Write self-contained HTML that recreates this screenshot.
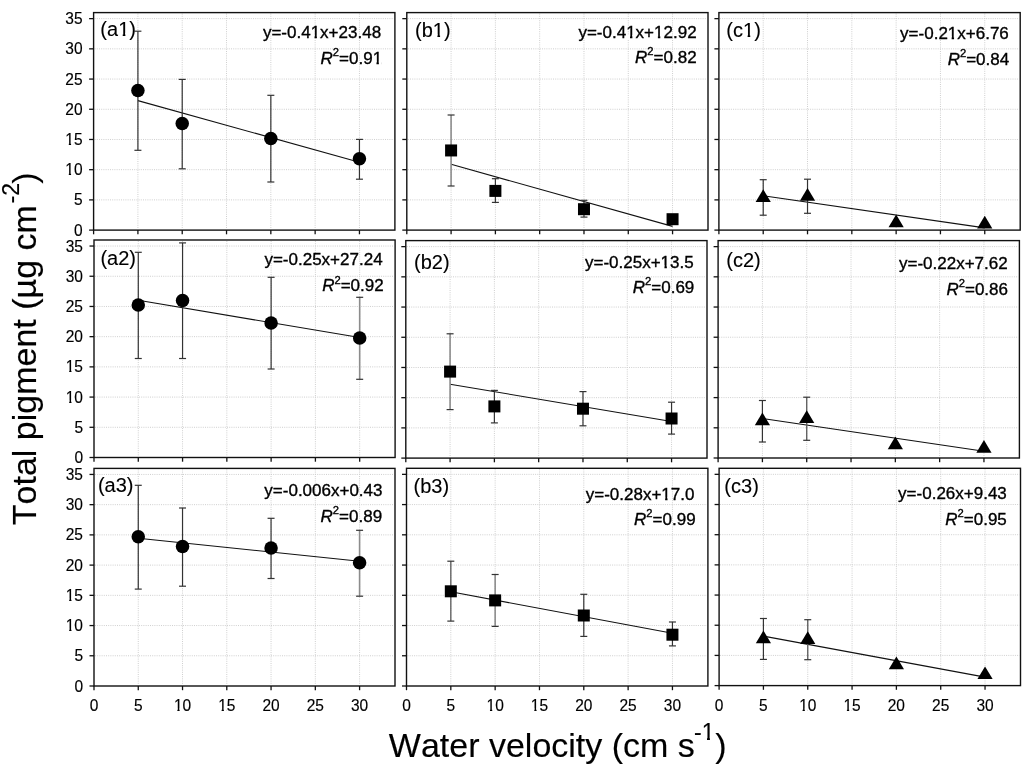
<!DOCTYPE html><html><head><meta charset="utf-8"><title>Total pigment vs water velocity</title>
<style>html,body{margin:0;padding:0;background:#fff;overflow:hidden}svg{display:block;will-change:transform}text{font-family:"Liberation Sans", sans-serif;fill:#000;font-kerning:none;stroke:#000}g text{stroke-width:inherit}</style></head><body>
<svg width="1024" height="768" viewBox="0 0 1024 768">
<rect x="0" y="0" width="1024" height="768" fill="#fff"/>
<g style="stroke-width:0.35px">
<g stroke="#cfcfcf" stroke-width="1" stroke-dasharray="1 1.2"><line x1="94.60" y1="199.89" x2="393.90" y2="199.89"/><line x1="94.60" y1="169.68" x2="393.90" y2="169.68"/><line x1="94.60" y1="139.47" x2="393.90" y2="139.47"/><line x1="94.60" y1="109.27" x2="393.90" y2="109.27"/><line x1="94.60" y1="79.06" x2="393.90" y2="79.06"/><line x1="94.60" y1="48.85" x2="393.90" y2="48.85"/><line x1="94.60" y1="18.64" x2="393.90" y2="18.64"/><line x1="137.91" y1="13.60" x2="137.91" y2="229.10"/><line x1="182.22" y1="13.60" x2="182.22" y2="229.10"/><line x1="226.53" y1="13.60" x2="226.53" y2="229.10"/><line x1="270.84" y1="13.60" x2="270.84" y2="229.10"/><line x1="315.14" y1="13.60" x2="315.14" y2="229.10"/><line x1="359.45" y1="13.60" x2="359.45" y2="229.10"/></g>
<g stroke="#111" stroke-width="1.3"><line x1="89.10" y1="230.10" x2="93.60" y2="230.10"/><line x1="89.10" y1="199.89" x2="93.60" y2="199.89"/><line x1="89.10" y1="169.68" x2="93.60" y2="169.68"/><line x1="89.10" y1="139.47" x2="93.60" y2="139.47"/><line x1="89.10" y1="109.27" x2="93.60" y2="109.27"/><line x1="89.10" y1="79.06" x2="93.60" y2="79.06"/><line x1="89.10" y1="48.85" x2="93.60" y2="48.85"/><line x1="89.10" y1="18.64" x2="93.60" y2="18.64"/><line x1="93.60" y1="230.10" x2="93.60" y2="234.30"/><line x1="137.91" y1="230.10" x2="137.91" y2="234.30"/><line x1="182.22" y1="230.10" x2="182.22" y2="234.30"/><line x1="226.53" y1="230.10" x2="226.53" y2="234.30"/><line x1="270.84" y1="230.10" x2="270.84" y2="234.30"/><line x1="315.14" y1="230.10" x2="315.14" y2="234.30"/><line x1="359.45" y1="230.10" x2="359.45" y2="234.30"/></g>
<rect x="93.60" y="12.60" width="301.30" height="217.50" fill="none" stroke="#111" stroke-width="1.4"/>
<line x1="137.91" y1="100.60" x2="359.45" y2="162.30" stroke="#111" stroke-width="1.1"/>
<g stroke="#333" stroke-width="1.2"><line x1="137.91" y1="31.20" x2="137.91" y2="150.30"/><line x1="134.41" y1="31.20" x2="141.41" y2="31.20"/><line x1="134.41" y1="150.30" x2="141.41" y2="150.30"/><line x1="182.22" y1="79.40" x2="182.22" y2="168.80"/><line x1="178.72" y1="79.40" x2="185.72" y2="79.40"/><line x1="178.72" y1="168.80" x2="185.72" y2="168.80"/><line x1="270.84" y1="95.30" x2="270.84" y2="182.00"/><line x1="267.34" y1="95.30" x2="274.34" y2="95.30"/><line x1="267.34" y1="182.00" x2="274.34" y2="182.00"/><line x1="359.45" y1="139.40" x2="359.45" y2="179.20"/><line x1="355.95" y1="139.40" x2="362.95" y2="139.40"/><line x1="355.95" y1="179.20" x2="362.95" y2="179.20"/></g>
<g fill="#000"><circle cx="137.91" cy="90.50" r="6.75"/><circle cx="182.22" cy="123.50" r="6.75"/><circle cx="270.84" cy="138.50" r="6.75"/><circle cx="359.45" cy="158.85" r="6.75"/></g>
<text x="100.35" y="35.60" style="stroke-width:0.12px"><tspan font-size="20">(a1)</tspan></text>
<text x="262.95" y="38.10"><tspan font-size="17">y=-0.41x+23.48</tspan></text>
<text x="320.58" y="64.10"><tspan font-size="17" font-style="italic">R</tspan><tspan font-size="11.2" dy="-7.8">2</tspan><tspan font-size="17" dy="7.8">=0.91</tspan></text>
<text transform="translate(0.00 235.60) scale(1 1.03)" x="73.98" y="0" style="stroke-width:0.15px"><tspan font-size="15.5">0</tspan></text>
<text transform="translate(0.00 205.39) scale(1 1.03)" x="73.98" y="0" style="stroke-width:0.15px"><tspan font-size="15.5">5</tspan></text>
<text transform="translate(0.00 175.18) scale(1 1.03)" x="65.36" y="0" style="stroke-width:0.15px"><tspan font-size="15.5">10</tspan></text>
<text transform="translate(0.00 144.97) scale(1 1.03)" x="65.36" y="0" style="stroke-width:0.15px"><tspan font-size="15.5">15</tspan></text>
<text transform="translate(0.00 114.77) scale(1 1.03)" x="65.36" y="0" style="stroke-width:0.15px"><tspan font-size="15.5">20</tspan></text>
<text transform="translate(0.00 84.56) scale(1 1.03)" x="65.36" y="0" style="stroke-width:0.15px"><tspan font-size="15.5">25</tspan></text>
<text transform="translate(0.00 54.35) scale(1 1.03)" x="65.36" y="0" style="stroke-width:0.15px"><tspan font-size="15.5">30</tspan></text>
<text transform="translate(0.00 24.14) scale(1 1.03)" x="65.36" y="0" style="stroke-width:0.15px"><tspan font-size="15.5">35</tspan></text>
<g stroke="#cfcfcf" stroke-width="1" stroke-dasharray="1 1.2"><line x1="407.80" y1="199.89" x2="707.00" y2="199.89"/><line x1="407.80" y1="169.68" x2="707.00" y2="169.68"/><line x1="407.80" y1="139.47" x2="707.00" y2="139.47"/><line x1="407.80" y1="109.27" x2="707.00" y2="109.27"/><line x1="407.80" y1="79.06" x2="707.00" y2="79.06"/><line x1="407.80" y1="48.85" x2="707.00" y2="48.85"/><line x1="407.80" y1="18.64" x2="707.00" y2="18.64"/><line x1="451.09" y1="13.60" x2="451.09" y2="229.10"/><line x1="495.39" y1="13.60" x2="495.39" y2="229.10"/><line x1="539.68" y1="13.60" x2="539.68" y2="229.10"/><line x1="583.98" y1="13.60" x2="583.98" y2="229.10"/><line x1="628.27" y1="13.60" x2="628.27" y2="229.10"/><line x1="672.56" y1="13.60" x2="672.56" y2="229.10"/></g>
<g stroke="#111" stroke-width="1.3"><line x1="402.30" y1="230.10" x2="406.80" y2="230.10"/><line x1="402.30" y1="199.89" x2="406.80" y2="199.89"/><line x1="402.30" y1="169.68" x2="406.80" y2="169.68"/><line x1="402.30" y1="139.47" x2="406.80" y2="139.47"/><line x1="402.30" y1="109.27" x2="406.80" y2="109.27"/><line x1="402.30" y1="79.06" x2="406.80" y2="79.06"/><line x1="402.30" y1="48.85" x2="406.80" y2="48.85"/><line x1="402.30" y1="18.64" x2="406.80" y2="18.64"/><line x1="406.80" y1="230.10" x2="406.80" y2="234.30"/><line x1="451.09" y1="230.10" x2="451.09" y2="234.30"/><line x1="495.39" y1="230.10" x2="495.39" y2="234.30"/><line x1="539.68" y1="230.10" x2="539.68" y2="234.30"/><line x1="583.98" y1="230.10" x2="583.98" y2="234.30"/><line x1="628.27" y1="230.10" x2="628.27" y2="234.30"/><line x1="672.56" y1="230.10" x2="672.56" y2="234.30"/></g>
<rect x="406.80" y="12.60" width="301.20" height="217.50" fill="none" stroke="#111" stroke-width="1.4"/>
<line x1="451.09" y1="164.30" x2="672.56" y2="226.40" stroke="#111" stroke-width="1.1"/>
<g stroke="#333" stroke-width="1.2"><line x1="451.09" y1="115.00" x2="451.09" y2="186.00" stroke="#8c8c8c" stroke-width="1.6"/><line x1="447.59" y1="115.00" x2="454.59" y2="115.00"/><line x1="447.59" y1="186.00" x2="454.59" y2="186.00"/><line x1="495.39" y1="178.70" x2="495.39" y2="202.40"/><line x1="491.89" y1="178.70" x2="498.89" y2="178.70"/><line x1="491.89" y1="202.40" x2="498.89" y2="202.40"/><line x1="583.98" y1="200.30" x2="583.98" y2="217.10"/><line x1="580.48" y1="200.30" x2="587.48" y2="200.30"/><line x1="580.48" y1="217.10" x2="587.48" y2="217.10"/></g>
<g fill="#000"><rect x="445.09" y="144.45" width="12" height="12"/><rect x="489.39" y="184.90" width="12" height="12"/><rect x="577.98" y="203.20" width="12" height="12"/><rect x="666.56" y="213.20" width="12" height="12"/></g>
<text x="415.05" y="37.10" style="stroke-width:0.12px"><tspan font-size="20">(b1)</tspan></text>
<text x="578.45" y="37.60"><tspan font-size="17">y=-0.41x+12.92</tspan></text>
<text x="635.08" y="63.10"><tspan font-size="17" font-style="italic">R</tspan><tspan font-size="11.2" dy="-7.8">2</tspan><tspan font-size="17" dy="7.8">=0.82</tspan></text>
<g stroke="#cfcfcf" stroke-width="1" stroke-dasharray="1 1.2"><line x1="719.90" y1="199.89" x2="1019.20" y2="199.89"/><line x1="719.90" y1="169.68" x2="1019.20" y2="169.68"/><line x1="719.90" y1="139.47" x2="1019.20" y2="139.47"/><line x1="719.90" y1="109.27" x2="1019.20" y2="109.27"/><line x1="719.90" y1="79.06" x2="1019.20" y2="79.06"/><line x1="719.90" y1="48.85" x2="1019.20" y2="48.85"/><line x1="719.90" y1="18.64" x2="1019.20" y2="18.64"/><line x1="763.21" y1="13.60" x2="763.21" y2="229.10"/><line x1="807.52" y1="13.60" x2="807.52" y2="229.10"/><line x1="851.83" y1="13.60" x2="851.83" y2="229.10"/><line x1="896.14" y1="13.60" x2="896.14" y2="229.10"/><line x1="940.44" y1="13.60" x2="940.44" y2="229.10"/><line x1="984.75" y1="13.60" x2="984.75" y2="229.10"/></g>
<g stroke="#111" stroke-width="1.3"><line x1="714.40" y1="230.10" x2="718.90" y2="230.10"/><line x1="714.40" y1="199.89" x2="718.90" y2="199.89"/><line x1="714.40" y1="169.68" x2="718.90" y2="169.68"/><line x1="714.40" y1="139.47" x2="718.90" y2="139.47"/><line x1="714.40" y1="109.27" x2="718.90" y2="109.27"/><line x1="714.40" y1="79.06" x2="718.90" y2="79.06"/><line x1="714.40" y1="48.85" x2="718.90" y2="48.85"/><line x1="714.40" y1="18.64" x2="718.90" y2="18.64"/><line x1="718.90" y1="230.10" x2="718.90" y2="234.30"/><line x1="763.21" y1="230.10" x2="763.21" y2="234.30"/><line x1="807.52" y1="230.10" x2="807.52" y2="234.30"/><line x1="851.83" y1="230.10" x2="851.83" y2="234.30"/><line x1="896.14" y1="230.10" x2="896.14" y2="234.30"/><line x1="940.44" y1="230.10" x2="940.44" y2="234.30"/><line x1="984.75" y1="230.10" x2="984.75" y2="234.30"/></g>
<rect x="718.90" y="12.60" width="301.30" height="217.50" fill="none" stroke="#111" stroke-width="1.4"/>
<line x1="763.21" y1="195.70" x2="984.75" y2="227.90" stroke="#111" stroke-width="1.1"/>
<g stroke="#333" stroke-width="1.2"><line x1="763.21" y1="179.70" x2="763.21" y2="215.20"/><line x1="759.71" y1="179.70" x2="766.71" y2="179.70"/><line x1="759.71" y1="215.20" x2="766.71" y2="215.20"/><line x1="807.52" y1="179.20" x2="807.52" y2="213.30"/><line x1="804.02" y1="179.20" x2="811.02" y2="179.20"/><line x1="804.02" y1="213.30" x2="811.02" y2="213.30"/></g>
<g fill="#000"><path d="M763.21 189.20L770.81 201.90L755.61 201.90Z"/><path d="M807.52 188.00L815.12 200.70L799.92 200.70Z"/><path d="M896.14 214.60L903.74 227.30L888.54 227.30Z"/><path d="M984.75 215.70L992.35 228.40L977.15 228.40Z"/></g>
<text x="726.35" y="37.10" style="stroke-width:0.12px"><tspan font-size="20">(c1)</tspan></text>
<text x="900.11" y="38.90"><tspan font-size="17">y=-0.21x+6.76</tspan></text>
<text x="947.68" y="64.70"><tspan font-size="17" font-style="italic">R</tspan><tspan font-size="11.2" dy="-7.8">2</tspan><tspan font-size="17" dy="7.8">=0.84</tspan></text>
<g stroke="#cfcfcf" stroke-width="1" stroke-dasharray="1 1.2"><line x1="95.00" y1="427.29" x2="394.10" y2="427.29"/><line x1="95.00" y1="397.08" x2="394.10" y2="397.08"/><line x1="95.00" y1="366.88" x2="394.10" y2="366.88"/><line x1="95.00" y1="336.67" x2="394.10" y2="336.67"/><line x1="95.00" y1="306.46" x2="394.10" y2="306.46"/><line x1="95.00" y1="276.25" x2="394.10" y2="276.25"/><line x1="95.00" y1="246.04" x2="394.10" y2="246.04"/><line x1="138.28" y1="241.00" x2="138.28" y2="456.50"/><line x1="182.56" y1="241.00" x2="182.56" y2="456.50"/><line x1="226.84" y1="241.00" x2="226.84" y2="456.50"/><line x1="271.12" y1="241.00" x2="271.12" y2="456.50"/><line x1="315.40" y1="241.00" x2="315.40" y2="456.50"/><line x1="359.68" y1="241.00" x2="359.68" y2="456.50"/></g>
<g stroke="#111" stroke-width="1.3"><line x1="89.50" y1="457.50" x2="94.00" y2="457.50"/><line x1="89.50" y1="427.29" x2="94.00" y2="427.29"/><line x1="89.50" y1="397.08" x2="94.00" y2="397.08"/><line x1="89.50" y1="366.88" x2="94.00" y2="366.88"/><line x1="89.50" y1="336.67" x2="94.00" y2="336.67"/><line x1="89.50" y1="306.46" x2="94.00" y2="306.46"/><line x1="89.50" y1="276.25" x2="94.00" y2="276.25"/><line x1="89.50" y1="246.04" x2="94.00" y2="246.04"/><line x1="94.00" y1="457.50" x2="94.00" y2="461.70"/><line x1="138.28" y1="457.50" x2="138.28" y2="461.70"/><line x1="182.56" y1="457.50" x2="182.56" y2="461.70"/><line x1="226.84" y1="457.50" x2="226.84" y2="461.70"/><line x1="271.12" y1="457.50" x2="271.12" y2="461.70"/><line x1="315.40" y1="457.50" x2="315.40" y2="461.70"/><line x1="359.68" y1="457.50" x2="359.68" y2="461.70"/></g>
<rect x="94.00" y="240.00" width="301.10" height="217.50" fill="none" stroke="#111" stroke-width="1.4"/>
<line x1="138.28" y1="300.30" x2="359.68" y2="337.50" stroke="#111" stroke-width="1.1"/>
<g stroke="#333" stroke-width="1.2"><line x1="138.28" y1="252.30" x2="138.28" y2="358.50"/><line x1="134.78" y1="252.30" x2="141.78" y2="252.30"/><line x1="134.78" y1="358.50" x2="141.78" y2="358.50"/><line x1="182.56" y1="242.90" x2="182.56" y2="358.50"/><line x1="179.06" y1="242.90" x2="186.06" y2="242.90"/><line x1="179.06" y1="358.50" x2="186.06" y2="358.50"/><line x1="271.12" y1="277.30" x2="271.12" y2="369.00"/><line x1="267.62" y1="277.30" x2="274.62" y2="277.30"/><line x1="267.62" y1="369.00" x2="274.62" y2="369.00"/><line x1="359.68" y1="297.30" x2="359.68" y2="379.30" stroke="#8c8c8c" stroke-width="1.6"/><line x1="356.18" y1="297.30" x2="363.18" y2="297.30"/><line x1="356.18" y1="379.30" x2="363.18" y2="379.30"/></g>
<g fill="#000"><circle cx="138.28" cy="305.00" r="6.75"/><circle cx="182.56" cy="300.60" r="6.75"/><circle cx="271.12" cy="322.90" r="6.75"/><circle cx="359.68" cy="337.90" r="6.75"/></g>
<text x="100.45" y="264.80" style="stroke-width:0.12px"><tspan font-size="20">(a2)</tspan></text>
<text x="264.45" y="265.30"><tspan font-size="17">y=-0.25x+27.24</tspan></text>
<text x="322.18" y="291.40"><tspan font-size="17" font-style="italic">R</tspan><tspan font-size="11.2" dy="-7.8">2</tspan><tspan font-size="17" dy="7.8">=0.92</tspan></text>
<text transform="translate(0.00 463.00) scale(1 1.03)" x="74.38" y="0" style="stroke-width:0.15px"><tspan font-size="15.5">0</tspan></text>
<text transform="translate(0.00 432.79) scale(1 1.03)" x="74.38" y="0" style="stroke-width:0.15px"><tspan font-size="15.5">5</tspan></text>
<text transform="translate(0.00 402.58) scale(1 1.03)" x="65.76" y="0" style="stroke-width:0.15px"><tspan font-size="15.5">10</tspan></text>
<text transform="translate(0.00 372.38) scale(1 1.03)" x="65.76" y="0" style="stroke-width:0.15px"><tspan font-size="15.5">15</tspan></text>
<text transform="translate(0.00 342.17) scale(1 1.03)" x="65.76" y="0" style="stroke-width:0.15px"><tspan font-size="15.5">20</tspan></text>
<text transform="translate(0.00 311.96) scale(1 1.03)" x="65.76" y="0" style="stroke-width:0.15px"><tspan font-size="15.5">25</tspan></text>
<text transform="translate(0.00 281.75) scale(1 1.03)" x="65.76" y="0" style="stroke-width:0.15px"><tspan font-size="15.5">30</tspan></text>
<text transform="translate(0.00 251.54) scale(1 1.03)" x="65.76" y="0" style="stroke-width:0.15px"><tspan font-size="15.5">35</tspan></text>
<g stroke="#cfcfcf" stroke-width="1" stroke-dasharray="1 1.2"><line x1="406.80" y1="427.89" x2="706.00" y2="427.89"/><line x1="406.80" y1="397.68" x2="706.00" y2="397.68"/><line x1="406.80" y1="367.48" x2="706.00" y2="367.48"/><line x1="406.80" y1="337.27" x2="706.00" y2="337.27"/><line x1="406.80" y1="307.06" x2="706.00" y2="307.06"/><line x1="406.80" y1="276.85" x2="706.00" y2="276.85"/><line x1="406.80" y1="246.64" x2="706.00" y2="246.64"/><line x1="450.09" y1="241.60" x2="450.09" y2="457.10"/><line x1="494.39" y1="241.60" x2="494.39" y2="457.10"/><line x1="538.68" y1="241.60" x2="538.68" y2="457.10"/><line x1="582.98" y1="241.60" x2="582.98" y2="457.10"/><line x1="627.27" y1="241.60" x2="627.27" y2="457.10"/><line x1="671.56" y1="241.60" x2="671.56" y2="457.10"/></g>
<g stroke="#111" stroke-width="1.3"><line x1="401.30" y1="458.10" x2="405.80" y2="458.10"/><line x1="401.30" y1="427.89" x2="405.80" y2="427.89"/><line x1="401.30" y1="397.68" x2="405.80" y2="397.68"/><line x1="401.30" y1="367.48" x2="405.80" y2="367.48"/><line x1="401.30" y1="337.27" x2="405.80" y2="337.27"/><line x1="401.30" y1="307.06" x2="405.80" y2="307.06"/><line x1="401.30" y1="276.85" x2="405.80" y2="276.85"/><line x1="401.30" y1="246.64" x2="405.80" y2="246.64"/><line x1="405.80" y1="458.10" x2="405.80" y2="462.30"/><line x1="450.09" y1="458.10" x2="450.09" y2="462.30"/><line x1="494.39" y1="458.10" x2="494.39" y2="462.30"/><line x1="538.68" y1="458.10" x2="538.68" y2="462.30"/><line x1="582.98" y1="458.10" x2="582.98" y2="462.30"/><line x1="627.27" y1="458.10" x2="627.27" y2="462.30"/><line x1="671.56" y1="458.10" x2="671.56" y2="462.30"/></g>
<rect x="405.80" y="240.60" width="301.20" height="217.50" fill="none" stroke="#111" stroke-width="1.4"/>
<line x1="450.09" y1="384.20" x2="671.56" y2="421.50" stroke="#111" stroke-width="1.1"/>
<g stroke="#333" stroke-width="1.2"><line x1="450.09" y1="333.80" x2="450.09" y2="409.60" stroke="#8c8c8c" stroke-width="1.6"/><line x1="446.59" y1="333.80" x2="453.59" y2="333.80"/><line x1="446.59" y1="409.60" x2="453.59" y2="409.60"/><line x1="494.39" y1="390.40" x2="494.39" y2="422.90"/><line x1="490.89" y1="390.40" x2="497.89" y2="390.40"/><line x1="490.89" y1="422.90" x2="497.89" y2="422.90"/><line x1="582.98" y1="391.60" x2="582.98" y2="425.80"/><line x1="579.48" y1="391.60" x2="586.48" y2="391.60"/><line x1="579.48" y1="425.80" x2="586.48" y2="425.80"/><line x1="671.56" y1="402.20" x2="671.56" y2="434.10"/><line x1="668.06" y1="402.20" x2="675.06" y2="402.20"/><line x1="668.06" y1="434.10" x2="675.06" y2="434.10"/></g>
<g fill="#000"><rect x="444.09" y="365.60" width="12" height="12"/><rect x="488.39" y="400.40" width="12" height="12"/><rect x="576.98" y="402.70" width="12" height="12"/><rect x="665.56" y="412.50" width="12" height="12"/></g>
<text x="414.05" y="268.80" style="stroke-width:0.12px"><tspan font-size="20">(b2)</tspan></text>
<text x="585.01" y="267.90"><tspan font-size="17">y=-0.25x+13.5</tspan></text>
<text x="632.78" y="293.00"><tspan font-size="17" font-style="italic">R</tspan><tspan font-size="11.2" dy="-7.8">2</tspan><tspan font-size="17" dy="7.8">=0.69</tspan></text>
<g stroke="#cfcfcf" stroke-width="1" stroke-dasharray="1 1.2"><line x1="719.10" y1="427.81" x2="1018.40" y2="427.81"/><line x1="719.10" y1="397.61" x2="1018.40" y2="397.61"/><line x1="719.10" y1="367.42" x2="1018.40" y2="367.42"/><line x1="719.10" y1="337.22" x2="1018.40" y2="337.22"/><line x1="719.10" y1="307.03" x2="1018.40" y2="307.03"/><line x1="719.10" y1="276.83" x2="1018.40" y2="276.83"/><line x1="719.10" y1="246.64" x2="1018.40" y2="246.64"/><line x1="762.41" y1="241.60" x2="762.41" y2="457.00"/><line x1="806.72" y1="241.60" x2="806.72" y2="457.00"/><line x1="851.03" y1="241.60" x2="851.03" y2="457.00"/><line x1="895.34" y1="241.60" x2="895.34" y2="457.00"/><line x1="939.64" y1="241.60" x2="939.64" y2="457.00"/><line x1="983.95" y1="241.60" x2="983.95" y2="457.00"/></g>
<g stroke="#111" stroke-width="1.3"><line x1="713.60" y1="458.00" x2="718.10" y2="458.00"/><line x1="713.60" y1="427.81" x2="718.10" y2="427.81"/><line x1="713.60" y1="397.61" x2="718.10" y2="397.61"/><line x1="713.60" y1="367.42" x2="718.10" y2="367.42"/><line x1="713.60" y1="337.22" x2="718.10" y2="337.22"/><line x1="713.60" y1="307.03" x2="718.10" y2="307.03"/><line x1="713.60" y1="276.83" x2="718.10" y2="276.83"/><line x1="713.60" y1="246.64" x2="718.10" y2="246.64"/><line x1="718.10" y1="458.00" x2="718.10" y2="462.20"/><line x1="762.41" y1="458.00" x2="762.41" y2="462.20"/><line x1="806.72" y1="458.00" x2="806.72" y2="462.20"/><line x1="851.03" y1="458.00" x2="851.03" y2="462.20"/><line x1="895.34" y1="458.00" x2="895.34" y2="462.20"/><line x1="939.64" y1="458.00" x2="939.64" y2="462.20"/><line x1="983.95" y1="458.00" x2="983.95" y2="462.20"/></g>
<rect x="718.10" y="240.60" width="301.30" height="217.40" fill="none" stroke="#111" stroke-width="1.4"/>
<line x1="762.41" y1="418.50" x2="983.95" y2="451.20" stroke="#111" stroke-width="1.1"/>
<g stroke="#333" stroke-width="1.2"><line x1="762.41" y1="400.50" x2="762.41" y2="442.00"/><line x1="758.91" y1="400.50" x2="765.91" y2="400.50"/><line x1="758.91" y1="442.00" x2="765.91" y2="442.00"/><line x1="806.72" y1="397.20" x2="806.72" y2="440.30" stroke="#5e5e5e" stroke-width="1.35"/><line x1="803.22" y1="397.20" x2="810.22" y2="397.20"/><line x1="803.22" y1="440.30" x2="810.22" y2="440.30"/></g>
<g fill="#000"><path d="M762.41 412.60L770.01 425.30L754.81 425.30Z"/><path d="M806.72 410.30L814.32 423.00L799.12 423.00Z"/><path d="M895.34 436.60L902.94 449.30L887.74 449.30Z"/><path d="M983.95 440.10L991.55 452.80L976.35 452.80Z"/></g>
<text x="726.25" y="267.10" style="stroke-width:0.12px"><tspan font-size="20">(c2)</tspan></text>
<text x="899.01" y="268.90"><tspan font-size="17">y=-0.22x+7.62</tspan></text>
<text x="946.48" y="294.60"><tspan font-size="17" font-style="italic">R</tspan><tspan font-size="11.2" dy="-7.8">2</tspan><tspan font-size="17" dy="7.8">=0.86</tspan></text>
<g stroke="#cfcfcf" stroke-width="1" stroke-dasharray="1 1.2"><line x1="95.00" y1="655.78" x2="394.00" y2="655.78"/><line x1="95.00" y1="625.56" x2="394.00" y2="625.56"/><line x1="95.00" y1="595.33" x2="394.00" y2="595.33"/><line x1="95.00" y1="565.11" x2="394.00" y2="565.11"/><line x1="95.00" y1="534.89" x2="394.00" y2="534.89"/><line x1="95.00" y1="504.67" x2="394.00" y2="504.67"/><line x1="95.00" y1="474.44" x2="394.00" y2="474.44"/><line x1="138.26" y1="469.40" x2="138.26" y2="685.00"/><line x1="182.53" y1="469.40" x2="182.53" y2="685.00"/><line x1="226.79" y1="469.40" x2="226.79" y2="685.00"/><line x1="271.06" y1="469.40" x2="271.06" y2="685.00"/><line x1="315.32" y1="469.40" x2="315.32" y2="685.00"/><line x1="359.59" y1="469.40" x2="359.59" y2="685.00"/></g>
<g stroke="#111" stroke-width="1.3"><line x1="89.50" y1="686.00" x2="94.00" y2="686.00"/><line x1="89.50" y1="655.78" x2="94.00" y2="655.78"/><line x1="89.50" y1="625.56" x2="94.00" y2="625.56"/><line x1="89.50" y1="595.33" x2="94.00" y2="595.33"/><line x1="89.50" y1="565.11" x2="94.00" y2="565.11"/><line x1="89.50" y1="534.89" x2="94.00" y2="534.89"/><line x1="89.50" y1="504.67" x2="94.00" y2="504.67"/><line x1="89.50" y1="474.44" x2="94.00" y2="474.44"/><line x1="94.00" y1="686.00" x2="94.00" y2="690.20"/><line x1="138.26" y1="686.00" x2="138.26" y2="690.20"/><line x1="182.53" y1="686.00" x2="182.53" y2="690.20"/><line x1="226.79" y1="686.00" x2="226.79" y2="690.20"/><line x1="271.06" y1="686.00" x2="271.06" y2="690.20"/><line x1="315.32" y1="686.00" x2="315.32" y2="690.20"/><line x1="359.59" y1="686.00" x2="359.59" y2="690.20"/></g>
<rect x="94.00" y="468.40" width="301.00" height="217.60" fill="none" stroke="#111" stroke-width="1.4"/>
<line x1="138.26" y1="538.30" x2="359.59" y2="561.20" stroke="#111" stroke-width="1.1"/>
<g stroke="#333" stroke-width="1.2"><line x1="138.26" y1="485.30" x2="138.26" y2="589.10"/><line x1="134.76" y1="485.30" x2="141.76" y2="485.30"/><line x1="134.76" y1="589.10" x2="141.76" y2="589.10"/><line x1="182.53" y1="508.00" x2="182.53" y2="586.20"/><line x1="179.03" y1="508.00" x2="186.03" y2="508.00"/><line x1="179.03" y1="586.20" x2="186.03" y2="586.20"/><line x1="271.06" y1="518.30" x2="271.06" y2="578.50"/><line x1="267.56" y1="518.30" x2="274.56" y2="518.30"/><line x1="267.56" y1="578.50" x2="274.56" y2="578.50"/><line x1="359.59" y1="530.30" x2="359.59" y2="596.20" stroke="#8c8c8c" stroke-width="1.6"/><line x1="356.09" y1="530.30" x2="363.09" y2="530.30"/><line x1="356.09" y1="596.20" x2="363.09" y2="596.20"/></g>
<g fill="#000"><circle cx="138.26" cy="536.80" r="6.75"/><circle cx="182.53" cy="546.50" r="6.75"/><circle cx="271.06" cy="548.00" r="6.75"/><circle cx="359.59" cy="562.70" r="6.75"/></g>
<text x="97.95" y="491.80" style="stroke-width:0.12px"><tspan font-size="20">(a3)</tspan></text>
<text x="264.35" y="496.00"><tspan font-size="17">y=-0.006x+0.43</tspan></text>
<text x="320.58" y="521.80"><tspan font-size="17" font-style="italic">R</tspan><tspan font-size="11.2" dy="-7.8">2</tspan><tspan font-size="17" dy="7.8">=0.89</tspan></text>
<text transform="translate(0.00 691.50) scale(1 1.03)" x="74.38" y="0" style="stroke-width:0.15px"><tspan font-size="15.5">0</tspan></text>
<text transform="translate(0.00 661.28) scale(1 1.03)" x="74.38" y="0" style="stroke-width:0.15px"><tspan font-size="15.5">5</tspan></text>
<text transform="translate(0.00 631.06) scale(1 1.03)" x="65.76" y="0" style="stroke-width:0.15px"><tspan font-size="15.5">10</tspan></text>
<text transform="translate(0.00 600.83) scale(1 1.03)" x="65.76" y="0" style="stroke-width:0.15px"><tspan font-size="15.5">15</tspan></text>
<text transform="translate(0.00 570.61) scale(1 1.03)" x="65.76" y="0" style="stroke-width:0.15px"><tspan font-size="15.5">20</tspan></text>
<text transform="translate(0.00 540.39) scale(1 1.03)" x="65.76" y="0" style="stroke-width:0.15px"><tspan font-size="15.5">25</tspan></text>
<text transform="translate(0.00 510.17) scale(1 1.03)" x="65.76" y="0" style="stroke-width:0.15px"><tspan font-size="15.5">30</tspan></text>
<text transform="translate(0.00 479.94) scale(1 1.03)" x="65.76" y="0" style="stroke-width:0.15px"><tspan font-size="15.5">35</tspan></text>
<text transform="translate(0.00 710.80) scale(1 1.03)" x="89.69" y="0" style="stroke-width:0.15px"><tspan font-size="15.5">0</tspan></text>
<text transform="translate(0.00 710.80) scale(1 1.03)" x="133.95" y="0" style="stroke-width:0.15px"><tspan font-size="15.5">5</tspan></text>
<text transform="translate(0.00 710.80) scale(1 1.03)" x="173.91" y="0" style="stroke-width:0.15px"><tspan font-size="15.5">10</tspan></text>
<text transform="translate(0.00 710.80) scale(1 1.03)" x="218.17" y="0" style="stroke-width:0.15px"><tspan font-size="15.5">15</tspan></text>
<text transform="translate(0.00 710.80) scale(1 1.03)" x="262.44" y="0" style="stroke-width:0.15px"><tspan font-size="15.5">20</tspan></text>
<text transform="translate(0.00 710.80) scale(1 1.03)" x="306.70" y="0" style="stroke-width:0.15px"><tspan font-size="15.5">25</tspan></text>
<text transform="translate(0.00 710.80) scale(1 1.03)" x="350.97" y="0" style="stroke-width:0.15px"><tspan font-size="15.5">30</tspan></text>
<g stroke="#cfcfcf" stroke-width="1" stroke-dasharray="1 1.2"><line x1="407.50" y1="655.76" x2="706.90" y2="655.76"/><line x1="407.50" y1="625.53" x2="706.90" y2="625.53"/><line x1="407.50" y1="595.29" x2="706.90" y2="595.29"/><line x1="407.50" y1="565.06" x2="706.90" y2="565.06"/><line x1="407.50" y1="534.82" x2="706.90" y2="534.82"/><line x1="407.50" y1="504.58" x2="706.90" y2="504.58"/><line x1="407.50" y1="474.35" x2="706.90" y2="474.35"/><line x1="450.82" y1="469.30" x2="450.82" y2="685.00"/><line x1="495.15" y1="469.30" x2="495.15" y2="685.00"/><line x1="539.47" y1="469.30" x2="539.47" y2="685.00"/><line x1="583.79" y1="469.30" x2="583.79" y2="685.00"/><line x1="628.12" y1="469.30" x2="628.12" y2="685.00"/><line x1="672.44" y1="469.30" x2="672.44" y2="685.00"/></g>
<g stroke="#111" stroke-width="1.3"><line x1="402.00" y1="686.00" x2="406.50" y2="686.00"/><line x1="402.00" y1="655.76" x2="406.50" y2="655.76"/><line x1="402.00" y1="625.53" x2="406.50" y2="625.53"/><line x1="402.00" y1="595.29" x2="406.50" y2="595.29"/><line x1="402.00" y1="565.06" x2="406.50" y2="565.06"/><line x1="402.00" y1="534.82" x2="406.50" y2="534.82"/><line x1="402.00" y1="504.58" x2="406.50" y2="504.58"/><line x1="402.00" y1="474.35" x2="406.50" y2="474.35"/><line x1="406.50" y1="686.00" x2="406.50" y2="690.20"/><line x1="450.82" y1="686.00" x2="450.82" y2="690.20"/><line x1="495.15" y1="686.00" x2="495.15" y2="690.20"/><line x1="539.47" y1="686.00" x2="539.47" y2="690.20"/><line x1="583.79" y1="686.00" x2="583.79" y2="690.20"/><line x1="628.12" y1="686.00" x2="628.12" y2="690.20"/><line x1="672.44" y1="686.00" x2="672.44" y2="690.20"/></g>
<rect x="406.50" y="468.30" width="301.40" height="217.70" fill="none" stroke="#111" stroke-width="1.4"/>
<line x1="450.82" y1="591.80" x2="672.44" y2="633.30" stroke="#111" stroke-width="1.1"/>
<g stroke="#333" stroke-width="1.2"><line x1="450.82" y1="561.20" x2="450.82" y2="621.10" stroke="#5e5e5e" stroke-width="1.35"/><line x1="447.32" y1="561.20" x2="454.32" y2="561.20"/><line x1="447.32" y1="621.10" x2="454.32" y2="621.10"/><line x1="495.15" y1="574.50" x2="495.15" y2="626.40" stroke="#8c8c8c" stroke-width="1.6"/><line x1="491.65" y1="574.50" x2="498.65" y2="574.50"/><line x1="491.65" y1="626.40" x2="498.65" y2="626.40"/><line x1="583.79" y1="594.30" x2="583.79" y2="636.40"/><line x1="580.29" y1="594.30" x2="587.29" y2="594.30"/><line x1="580.29" y1="636.40" x2="587.29" y2="636.40"/><line x1="672.44" y1="622.00" x2="672.44" y2="645.90"/><line x1="668.94" y1="622.00" x2="675.94" y2="622.00"/><line x1="668.94" y1="645.90" x2="675.94" y2="645.90"/></g>
<g fill="#000"><rect x="444.82" y="585.30" width="12" height="12"/><rect x="489.15" y="594.40" width="12" height="12"/><rect x="577.79" y="609.50" width="12" height="12"/><rect x="666.44" y="628.70" width="12" height="12"/></g>
<text x="413.55" y="492.70" style="stroke-width:0.12px"><tspan font-size="20">(b3)</tspan></text>
<text x="585.71" y="499.80"><tspan font-size="17">y=-0.28x+17.0</tspan></text>
<text x="634.08" y="524.50"><tspan font-size="17" font-style="italic">R</tspan><tspan font-size="11.2" dy="-7.8">2</tspan><tspan font-size="17" dy="7.8">=0.99</tspan></text>
<text transform="translate(0.00 710.80) scale(1 1.03)" x="402.19" y="0" style="stroke-width:0.15px"><tspan font-size="15.5">0</tspan></text>
<text transform="translate(0.00 710.80) scale(1 1.03)" x="446.51" y="0" style="stroke-width:0.15px"><tspan font-size="15.5">5</tspan></text>
<text transform="translate(0.00 710.80) scale(1 1.03)" x="486.53" y="0" style="stroke-width:0.15px"><tspan font-size="15.5">10</tspan></text>
<text transform="translate(0.00 710.80) scale(1 1.03)" x="530.85" y="0" style="stroke-width:0.15px"><tspan font-size="15.5">15</tspan></text>
<text transform="translate(0.00 710.80) scale(1 1.03)" x="575.17" y="0" style="stroke-width:0.15px"><tspan font-size="15.5">20</tspan></text>
<text transform="translate(0.00 710.80) scale(1 1.03)" x="619.50" y="0" style="stroke-width:0.15px"><tspan font-size="15.5">25</tspan></text>
<text transform="translate(0.00 710.80) scale(1 1.03)" x="663.82" y="0" style="stroke-width:0.15px"><tspan font-size="15.5">30</tspan></text>
<g stroke="#cfcfcf" stroke-width="1" stroke-dasharray="1 1.2"><line x1="720.10" y1="655.42" x2="1019.50" y2="655.42"/><line x1="720.10" y1="625.24" x2="1019.50" y2="625.24"/><line x1="720.10" y1="595.06" x2="1019.50" y2="595.06"/><line x1="720.10" y1="564.88" x2="1019.50" y2="564.88"/><line x1="720.10" y1="534.70" x2="1019.50" y2="534.70"/><line x1="720.10" y1="504.52" x2="1019.50" y2="504.52"/><line x1="720.10" y1="474.34" x2="1019.50" y2="474.34"/><line x1="763.42" y1="469.30" x2="763.42" y2="684.60"/><line x1="807.75" y1="469.30" x2="807.75" y2="684.60"/><line x1="852.07" y1="469.30" x2="852.07" y2="684.60"/><line x1="896.39" y1="469.30" x2="896.39" y2="684.60"/><line x1="940.72" y1="469.30" x2="940.72" y2="684.60"/><line x1="985.04" y1="469.30" x2="985.04" y2="684.60"/></g>
<g stroke="#111" stroke-width="1.3"><line x1="714.60" y1="685.60" x2="719.10" y2="685.60"/><line x1="714.60" y1="655.42" x2="719.10" y2="655.42"/><line x1="714.60" y1="625.24" x2="719.10" y2="625.24"/><line x1="714.60" y1="595.06" x2="719.10" y2="595.06"/><line x1="714.60" y1="564.88" x2="719.10" y2="564.88"/><line x1="714.60" y1="534.70" x2="719.10" y2="534.70"/><line x1="714.60" y1="504.52" x2="719.10" y2="504.52"/><line x1="714.60" y1="474.34" x2="719.10" y2="474.34"/><line x1="719.10" y1="685.60" x2="719.10" y2="689.80"/><line x1="763.42" y1="685.60" x2="763.42" y2="689.80"/><line x1="807.75" y1="685.60" x2="807.75" y2="689.80"/><line x1="852.07" y1="685.60" x2="852.07" y2="689.80"/><line x1="896.39" y1="685.60" x2="896.39" y2="689.80"/><line x1="940.72" y1="685.60" x2="940.72" y2="689.80"/><line x1="985.04" y1="685.60" x2="985.04" y2="689.80"/></g>
<rect x="719.10" y="468.30" width="301.40" height="217.30" fill="none" stroke="#111" stroke-width="1.4"/>
<line x1="763.42" y1="636.10" x2="985.04" y2="677.10" stroke="#111" stroke-width="1.1"/>
<g stroke="#333" stroke-width="1.2"><line x1="763.42" y1="618.50" x2="763.42" y2="659.40"/><line x1="759.92" y1="618.50" x2="766.92" y2="618.50"/><line x1="759.92" y1="659.40" x2="766.92" y2="659.40"/><line x1="807.75" y1="619.70" x2="807.75" y2="659.70" stroke="#5e5e5e" stroke-width="1.35"/><line x1="804.25" y1="619.70" x2="811.25" y2="619.70"/><line x1="804.25" y1="659.70" x2="811.25" y2="659.70"/></g>
<g fill="#000"><path d="M763.42 630.60L771.02 643.30L755.82 643.30Z"/><path d="M807.75 631.20L815.35 643.90L800.15 643.90Z"/><path d="M896.39 656.50L903.99 669.20L888.79 669.20Z"/><path d="M985.04 666.40L992.64 679.10L977.44 679.10Z"/></g>
<text x="724.35" y="492.70" style="stroke-width:0.12px"><tspan font-size="20">(c3)</tspan></text>
<text x="898.11" y="498.70"><tspan font-size="17">y=-0.26x+9.43</tspan></text>
<text x="945.28" y="524.60"><tspan font-size="17" font-style="italic">R</tspan><tspan font-size="11.2" dy="-7.8">2</tspan><tspan font-size="17" dy="7.8">=0.95</tspan></text>
<text transform="translate(0.00 710.80) scale(1 1.03)" x="714.79" y="0" style="stroke-width:0.15px"><tspan font-size="15.5">0</tspan></text>
<text transform="translate(0.00 710.80) scale(1 1.03)" x="759.11" y="0" style="stroke-width:0.15px"><tspan font-size="15.5">5</tspan></text>
<text transform="translate(0.00 710.80) scale(1 1.03)" x="799.13" y="0" style="stroke-width:0.15px"><tspan font-size="15.5">10</tspan></text>
<text transform="translate(0.00 710.80) scale(1 1.03)" x="843.45" y="0" style="stroke-width:0.15px"><tspan font-size="15.5">15</tspan></text>
<text transform="translate(0.00 710.80) scale(1 1.03)" x="887.77" y="0" style="stroke-width:0.15px"><tspan font-size="15.5">20</tspan></text>
<text transform="translate(0.00 710.80) scale(1 1.03)" x="932.10" y="0" style="stroke-width:0.15px"><tspan font-size="15.5">25</tspan></text>
<text transform="translate(0.00 710.80) scale(1 1.03)" x="976.42" y="0" style="stroke-width:0.15px"><tspan font-size="15.5">30</tspan></text>
</g>
<g style="stroke-width:0.15px">
<text x="388.80" y="757.00"><tspan font-size="34">Water velocity (cm s</tspan></text>
<text x="694.00" y="740.20"><tspan font-size="23">-1</tspan></text>
<text x="715.30" y="757.00"><tspan font-size="34">)</tspan></text>
</g>
<g transform="translate(36.3 0) rotate(-90)" style="stroke-width:0.15px">
<text x="-525.20" y="0" font-size="34">Total pigment (µg cm</text>
<text x="-203.50" y="-17.40" font-size="23">-2</text>
<text x="-183.70" y="0" font-size="34">)</text>
</g>
<g fill="#fff"><rect x="118.23" y="32.81" width="4.48" height="4.29"/><rect x="125.38" y="32.81" width="3.59" height="4.29"/><rect x="310.76" y="35.53" width="3.74" height="4.07"/><rect x="316.90" y="35.53" width="2.99" height="4.07"/><rect x="372.73" y="61.53" width="3.74" height="4.07"/><rect x="378.87" y="61.53" width="2.99" height="4.07"/><rect x="65.43" y="172.65" width="3.37" height="4.03"/><rect x="71.08" y="172.65" width="2.68" height="4.03"/><rect x="65.43" y="142.44" width="3.37" height="4.03"/><rect x="71.08" y="142.44" width="2.68" height="4.03"/><rect x="432.93" y="34.31" width="4.48" height="4.29"/><rect x="440.08" y="34.31" width="3.59" height="4.29"/><rect x="626.26" y="35.03" width="3.74" height="4.07"/><rect x="632.40" y="35.03" width="2.99" height="4.07"/><rect x="654.14" y="35.03" width="3.74" height="4.07"/><rect x="660.29" y="35.03" width="2.99" height="4.07"/><rect x="743.11" y="34.31" width="4.48" height="4.29"/><rect x="750.26" y="34.31" width="3.59" height="4.29"/><rect x="947.91" y="36.33" width="3.74" height="4.07"/><rect x="954.06" y="36.33" width="2.99" height="4.07"/><rect x="65.83" y="400.05" width="3.37" height="4.03"/><rect x="71.48" y="400.05" width="2.68" height="4.03"/><rect x="65.83" y="369.84" width="3.37" height="4.03"/><rect x="71.48" y="369.84" width="2.68" height="4.03"/><rect x="660.70" y="265.33" width="3.74" height="4.07"/><rect x="666.84" y="265.33" width="2.99" height="4.07"/><rect x="65.83" y="628.52" width="3.37" height="4.03"/><rect x="71.48" y="628.52" width="2.68" height="4.03"/><rect x="65.83" y="598.30" width="3.37" height="4.03"/><rect x="71.48" y="598.30" width="2.68" height="4.03"/><rect x="173.98" y="708.27" width="3.37" height="4.03"/><rect x="179.63" y="708.27" width="2.68" height="4.03"/><rect x="218.25" y="708.27" width="3.37" height="4.03"/><rect x="223.89" y="708.27" width="2.68" height="4.03"/><rect x="661.40" y="497.23" width="3.74" height="4.07"/><rect x="667.54" y="497.23" width="2.99" height="4.07"/><rect x="486.60" y="708.27" width="3.37" height="4.03"/><rect x="492.24" y="708.27" width="2.68" height="4.03"/><rect x="530.93" y="708.27" width="3.37" height="4.03"/><rect x="536.57" y="708.27" width="2.68" height="4.03"/><rect x="799.20" y="708.27" width="3.37" height="4.03"/><rect x="804.84" y="708.27" width="2.68" height="4.03"/><rect x="843.53" y="708.27" width="3.37" height="4.03"/><rect x="849.17" y="708.27" width="2.68" height="4.03"/><rect x="701.77" y="737.18" width="5.22" height="4.52"/><rect x="709.93" y="737.18" width="4.20" height="4.52"/></g>
</svg></body></html>
